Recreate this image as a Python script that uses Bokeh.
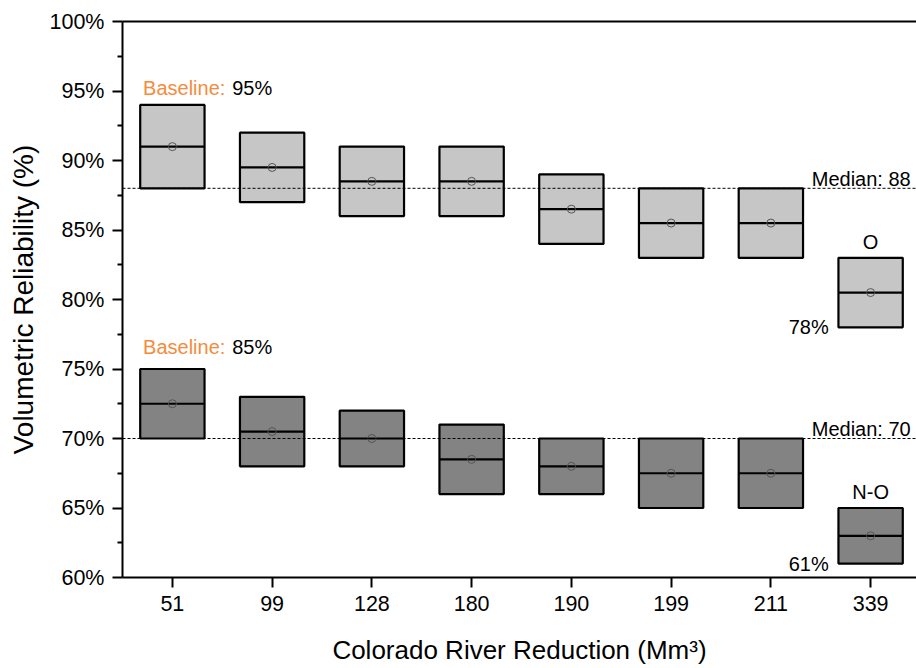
from bokeh.plotting import figure
from bokeh.models import FixedTicker, PrintfTickFormatter, LinearAxis, Range1d, ColumnDataSource, Span
from bokeh.core.properties import value
from bokeh.embed import file_html
from bokeh.resources import INLINE

categories = ["51", "99", "128", "180", "190", "199", "211", "339"]

o_low = [88, 87, 86, 86, 84, 83, 83, 78]
o_high = [94, 92, 91, 91, 89, 88, 88, 83]
o_median = [91, 89.5, 88.5, 88.5, 86.5, 85.5, 85.5, 80.5]
o_mean = [91, 89.5, 88.5, 88.5, 86.5, 85.5, 85.5, 80.5]

no_low = [70, 68, 68, 66, 66, 65, 65, 61]
no_high = [75, 73, 72, 71, 70, 70, 70, 65]
no_median = [72.5, 70.5, 70, 68.5, 68, 67.5, 67.5, 63]
no_mean = [72.5, 70.5, 70, 68.5, 68, 67.5, 67.5, 63]

o_overall_median = 88
no_overall_median = 70
o_baseline = "95%"
no_baseline = "85%"
o_min_label = "78%"
no_min_label = "61%"

y_ticks = [60, 65, 70, 75, 80, 85, 90, 95, 100]
y_minor = [62.5, 67.5, 72.5, 77.5, 82.5, 87.5, 92.5, 97.5]

FONT = "Liberation Sans"
BOX_W = 0.645
xs = list(range(len(categories)))

p = figure(width=916, height=668, output_backend="svg", toolbar_location=None,
           x_range=Range1d(-0.5, 7.46), y_range=Range1d(60, 100),
           min_border_left=122, min_border_right=0, min_border_top=21, min_border_bottom=91)
p.xgrid.visible = False
p.ygrid.visible = False
p.outline_line_color = None
p.background_fill_color = "white"
p.border_fill_color = "white"

# reference lines
for m in (o_overall_median, no_overall_median):
    p.add_layout(Span(location=m, dimension="width", line_color="black",
                      line_width=1, line_dash="3 2"))

def draw_boxes(low, high, med, mean, fill):
    src = ColumnDataSource(dict(x=xs, low=low, high=high, med=med, mean=mean,
                                x0=[x - BOX_W / 2 for x in xs],
                                x1=[x + BOX_W / 2 for x in xs]))
    p.vbar(x="x", width=BOX_W, bottom="low", top="high", source=src,
           fill_color=fill, line_color="black", line_width=2.2)
    p.segment(x0="x0", x1="x1", y0="med", y1="med", source=src,
              line_color="black", line_width=2.2)
    p.scatter(x="x", y="mean", source=src, marker="circle", size=8,
              fill_color=None, line_color="#555555", line_width=1)

draw_boxes(o_low, o_high, o_median, o_mean, "#c6c6c6")
draw_boxes(no_low, no_high, no_median, no_mean, "#838383")

def txt(x, y, s, color="black", align="left", baseline="alphabetic", size="20px"):
    p.text(x=[x], y=[y], text=[s], text_color=color, text_align=align,
           text_baseline=baseline, text_font=value(FONT), text_font_size=size)

ORANGE = "#F68B3C"
txt(-0.294, 95.2, "Baseline:", color=ORANGE)
txt(0.60, 95.2, o_baseline)
txt(-0.294, 76.6, "Baseline:", color=ORANGE)
txt(0.60, 76.6, no_baseline)
txt(6.41, 88.65, "Median: %d" % o_overall_median)
txt(6.41, 70.68, "Median: %d" % no_overall_median)
txt(7, 84.15, "O", align="center")
txt(7, 66.13, "N-O", align="center")
txt(6.58, o_low[-1], o_min_label, align="right")
txt(6.58, no_low[-1], no_min_label, align="right")

# axes
xa = p.xaxis[0]
xa.ticker = FixedTicker(ticks=xs)
xa.major_label_overrides = {i: c for i, c in enumerate(categories)}
xa.axis_label = "Colorado River Reduction (Mm³)"
ya = p.yaxis[0]
ya.ticker = FixedTicker(ticks=y_ticks, minor_ticks=y_minor)
ya.formatter = PrintfTickFormatter(format="%d%%")
ya.axis_label = "Volumetric Reliability (%)"

for ax in (xa, ya):
    ax.axis_line_color = "black"
    ax.axis_line_width = 2
    ax.major_tick_line_color = "black"
    ax.major_tick_line_width = 2
    ax.major_tick_in = 0
    ax.major_tick_out = 10
    ax.minor_tick_line_color = "black"
    ax.minor_tick_line_width = 2
    ax.minor_tick_in = 0
    ax.minor_tick_out = 5
    ax.major_label_text_font = FONT
    ax.major_label_text_font_size = "21.5px"
    ax.major_label_text_color = "black"
    ax.axis_label_text_font = FONT
    ax.axis_label_text_font_style = "normal"
    ax.axis_label_text_color = "black"
xa.minor_tick_line_color = None
xa.axis_label_text_font_size = "26px"
ya.axis_label_text_font_size = "28px"
xa.major_label_standoff = 8
xa.axis_label_standoff = 21
ya.major_label_standoff = 8
ya.axis_label_standoff = 8

top = LinearAxis(axis_line_color="black", axis_line_width=2,
                 major_tick_line_color=None, minor_tick_line_color=None,
                 major_label_text_font_size="0px", ticker=FixedTicker(ticks=[]))
p.add_layout(top, "above")

open("out.html", "w").write(file_html(p, INLINE))
